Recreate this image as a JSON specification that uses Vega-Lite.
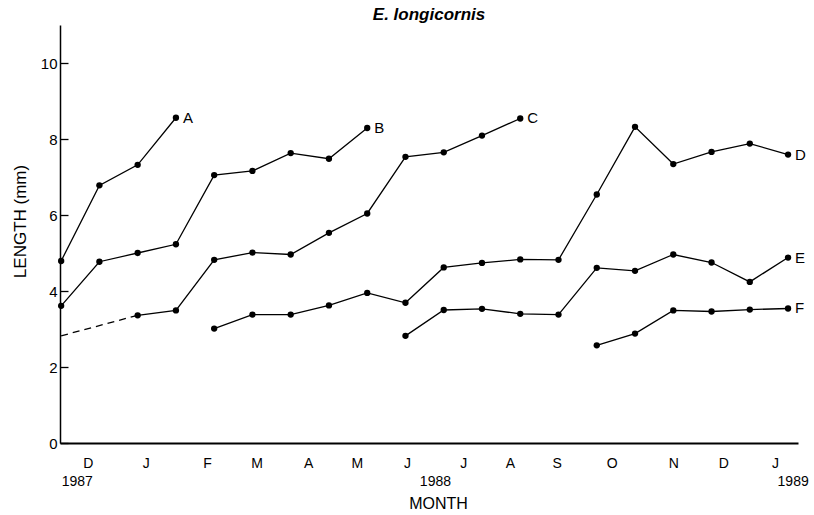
{
  "$schema": "https://vega.github.io/schema/vega-lite/v6.json",
  "width": 738,
  "height": 418,
  "autosize": {"type": "none"},
  "padding": {"left": 60, "top": 25, "right": 16, "bottom": 72},
  "background": "white",
  "title": {
    "text": "E. longicornis",
    "font": "Liberation Sans",
    "fontSize": 17,
    "fontStyle": "italic",
    "fontWeight": "bold",
    "color": "black",
    "anchor": "middle",
    "offset": 1
  },
  "config": {
    "view": {"stroke": null},
    "axis": {
      "labelFont": "Liberation Sans",
      "titleFont": "Liberation Sans",
      "labelColor": "black",
      "titleColor": "black",
      "domainColor": "black",
      "tickColor": "black",
      "grid": false,
      "labelFontSize": 14,
      "titleFontSize": 16,
      "titleFontWeight": "normal",
      "labelOverlap": false,
      "labelFlush": false,
      "labelBound": false
    }
  },
  "datasets": {
    "samples": [
      {"cohort": "A", "sample": 0, "length": 4.79},
      {"cohort": "A", "sample": 1, "length": 6.78},
      {"cohort": "A", "sample": 2, "length": 7.32},
      {"cohort": "A", "sample": 3, "length": 8.56},
      {"cohort": "B", "sample": 0, "length": 3.61},
      {"cohort": "B", "sample": 1, "length": 4.77},
      {"cohort": "B", "sample": 2, "length": 5.0},
      {"cohort": "B", "sample": 3, "length": 5.23},
      {"cohort": "B", "sample": 4, "length": 7.05},
      {"cohort": "B", "sample": 5, "length": 7.16},
      {"cohort": "B", "sample": 6, "length": 7.63},
      {"cohort": "B", "sample": 7, "length": 7.48},
      {"cohort": "B", "sample": 8, "length": 8.29},
      {"cohort": "C", "sample": 2, "length": 3.36},
      {"cohort": "C", "sample": 3, "length": 3.49},
      {"cohort": "C", "sample": 4, "length": 4.82},
      {"cohort": "C", "sample": 5, "length": 5.01},
      {"cohort": "C", "sample": 6, "length": 4.96},
      {"cohort": "C", "sample": 7, "length": 5.53},
      {"cohort": "C", "sample": 8, "length": 6.04},
      {"cohort": "C", "sample": 9, "length": 7.53},
      {"cohort": "C", "sample": 10, "length": 7.65},
      {"cohort": "C", "sample": 11, "length": 8.09},
      {"cohort": "C", "sample": 12, "length": 8.54},
      {"cohort": "D", "sample": 4, "length": 3.01},
      {"cohort": "D", "sample": 5, "length": 3.38},
      {"cohort": "D", "sample": 6, "length": 3.38},
      {"cohort": "D", "sample": 7, "length": 3.62},
      {"cohort": "D", "sample": 8, "length": 3.95},
      {"cohort": "D", "sample": 9, "length": 3.69},
      {"cohort": "D", "sample": 10, "length": 4.62},
      {"cohort": "D", "sample": 11, "length": 4.74},
      {"cohort": "D", "sample": 12, "length": 4.83},
      {"cohort": "D", "sample": 13, "length": 4.82},
      {"cohort": "D", "sample": 14, "length": 6.54},
      {"cohort": "D", "sample": 15, "length": 8.32},
      {"cohort": "D", "sample": 16, "length": 7.34},
      {"cohort": "D", "sample": 17, "length": 7.66},
      {"cohort": "D", "sample": 18, "length": 7.88},
      {"cohort": "D", "sample": 19, "length": 7.59},
      {"cohort": "E", "sample": 9, "length": 2.82},
      {"cohort": "E", "sample": 10, "length": 3.5},
      {"cohort": "E", "sample": 11, "length": 3.53},
      {"cohort": "E", "sample": 12, "length": 3.4},
      {"cohort": "E", "sample": 13, "length": 3.38},
      {"cohort": "E", "sample": 14, "length": 4.61},
      {"cohort": "E", "sample": 15, "length": 4.53},
      {"cohort": "E", "sample": 16, "length": 4.96},
      {"cohort": "E", "sample": 17, "length": 4.75},
      {"cohort": "E", "sample": 18, "length": 4.24},
      {"cohort": "E", "sample": 19, "length": 4.88},
      {"cohort": "F", "sample": 14, "length": 2.57},
      {"cohort": "F", "sample": 15, "length": 2.88},
      {"cohort": "F", "sample": 16, "length": 3.49},
      {"cohort": "F", "sample": 17, "length": 3.46},
      {"cohort": "F", "sample": 18, "length": 3.51},
      {"cohort": "F", "sample": 19, "length": 3.54}
    ],
    "backExtrapolated": [
      {"cohort": "C", "sample": 0, "length": 2.82},
      {"cohort": "C", "sample": 2, "length": 3.36}
    ]
  },
  "layer": [
    {
      "data": {"name": "backExtrapolated"},
      "mark": {"type": "line", "color": "black", "strokeWidth": 1.3, "strokeDash": [7, 5]},
      "encoding": {
        "x": {
          "field": "sample",
          "type": "quantitative",
          "scale": {"domain": [-0.03, 19.26], "nice": false, "zero": false},
          "axis": {
            "orient": "bottom",
            "values": [0.41, 9.77, 19.12],
            "labelExpr": "['1987','1988','1989'][indexof([0.41,9.77,19.12], datum.value)]",
            "domain": false,
            "ticks": false,
            "labelPadding": 31,
            "title": "MONTH",
            "titleBaseline": "alphabetic",
            "titleY": 65,
            "titleX": 378
          }
        },
        "y": {
          "field": "length",
          "type": "quantitative",
          "scale": {"domain": [0, 11], "nice": false},
          "axis": {
            "values": [0, 1, 2, 3, 4, 5, 6, 7, 8, 9, 10, 11],
            "labelExpr": "datum.value % 2 == 0 && datum.value < 11 ? datum.label : ''",
            "labelFontSize": 15,
            "tickSize": -8,
            "tickWidth": 1.3,
            "domainWidth": 1.5,
            "labelPadding": 11,
            "title": "LENGTH (mm)",
            "titleFontSize": 17,
            "titleY": 196,
            "titlePadding": 11
          }
        }
      }
    },
    {
      "data": {"name": "samples"},
      "mark": {"type": "line", "color": "black", "strokeWidth": 1.3},
      "encoding": {
        "x": {
          "field": "sample",
          "type": "quantitative",
          "axis": {
            "orient": "bottom",
            "values": [0.695, 2.21, 3.81, 5.11, 6.46, 7.73, 9.04, 10.51, 11.73, 12.95, 14.39, 16.0, 17.31, 18.66],
            "labelExpr": "['D','J','F','M','A','M','J','J','A','S','O','N','D','J'][indexof([0.695,2.21,3.81,5.11,6.46,7.73,9.04,10.51,11.73,12.95,14.39,16,17.31,18.66], datum.value)]",
            "ticks": false,
            "domainWidth": 1.8,
            "labelPadding": 13,
            "title": null
          }
        },
        "y": {"field": "length", "type": "quantitative"},
        "detail": {"field": "cohort"}
      }
    },
    {
      "data": {"name": "samples"},
      "mark": {"type": "point", "filled": true, "color": "black", "size": 40, "opacity": 1},
      "encoding": {
        "x": {"field": "sample", "type": "quantitative", "axis": null},
        "y": {"field": "length", "type": "quantitative"}
      }
    },
    {
      "data": {"name": "samples"},
      "transform": [
        {"joinaggregate": [{"op": "max", "field": "sample", "as": "lastSample"}], "groupby": ["cohort"]},
        {"filter": "datum.sample == datum.lastSample"}
      ],
      "mark": {"type": "text", "align": "left", "baseline": "middle", "dx": 7, "font": "Liberation Sans", "fontSize": 15, "color": "black"},
      "encoding": {
        "x": {"field": "sample", "type": "quantitative", "axis": null},
        "y": {"field": "length", "type": "quantitative"},
        "text": {"field": "cohort"}
      }
    }
  ],
  "resolve": {"axis": {"x": "independent"}}
}
